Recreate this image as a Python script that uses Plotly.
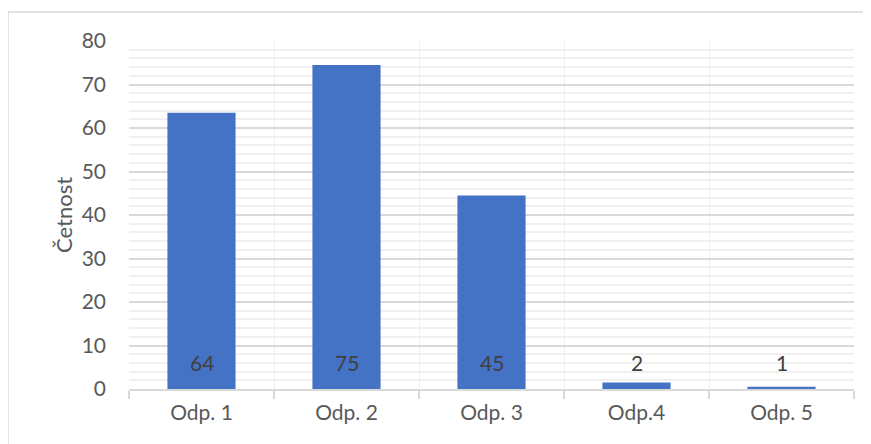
import math
import plotly.graph_objects as go

categories = ["Odp. 1", "Odp. 2", "Odp. 3", "Odp.4", "Odp. 5"]
values = [63.5, 74.5, 44.5, 1.5, 0.5]
labels = [str(int(math.floor(v + 0.5))) for v in values]
y_title = "Četnost"

FONT = "Lato"
OFF = 8  # page body margin offset
W, H = 871 - OFF, 444 - OFF
L, R, T, B = 129 - OFF, 17, 41 - OFF, 55
pw, ph = W - L - R, H - T - B

fig = go.Figure()
fig.add_trace(go.Bar(
    x=categories, y=values, width=0.47,
    marker=dict(color="#4472C4", line=dict(width=0)),
    hoverinfo="x+y",
))

for c, t in zip(categories, labels):
    fig.add_annotation(x=c, y=0, xref="x", yref="y", text=t, showarrow=False,
                       yanchor="bottom", yshift=12,
                       font=dict(family=FONT, size=21, color="#404040"))

fig.add_annotation(xref="paper", yref="paper", x=(63 - 129) / pw, y=0.5,
                   text=y_title, textangle=-90, showarrow=False,
                   xanchor="center", yanchor="middle",
                   font=dict(family=FONT, size=22, color="#595959"))

# chart area border
fig.add_shape(type="rect", xref="paper", yref="paper",
              x0=(8 - 129) / pw, x1=(871 + 5 - 129) / pw,
              y0=-(B + 10) / ph, y1=1 + (41 - 12) / ph,
              line=dict(color="#d9d9d9", width=1.5), fillcolor="rgba(0,0,0,0)",
              layer="below")

fig.update_layout(
    width=W, height=H,
    margin=dict(l=L, r=R, t=T, b=B, pad=0),
    paper_bgcolor="white", plot_bgcolor="white",
    showlegend=False,
    font=dict(family=FONT, size=21, color="#595959"),
)
fig.update_xaxes(
    type="category", tickson="boundaries",
    showgrid=True, gridcolor="#eeeeee", gridwidth=1,
    showline=True, linecolor="#d9d9d9", linewidth=1.5,
    ticks="outside", ticklen=8, tickcolor="#d9d9d9", tickwidth=1.5,
    tickfont=dict(family=FONT, size=21, color="#595959"),
    ticklabelstandoff=4,
    range=[-0.5, 4.5], fixedrange=True,
)
fig.update_yaxes(
    range=[0, 80], dtick=10, tick0=0,
    showgrid=True, gridcolor="#d9d9d9", gridwidth=1.5,
    minor=dict(dtick=2, showgrid=True, gridcolor="#f0f0f0", gridwidth=1.5),
    zeroline=False, showline=False, ticks="",
    tickfont=dict(family=FONT, size=21, color="#595959"),
    ticklabelstandoff=22,
    fixedrange=True,
)

fig.write_html("out.html")
